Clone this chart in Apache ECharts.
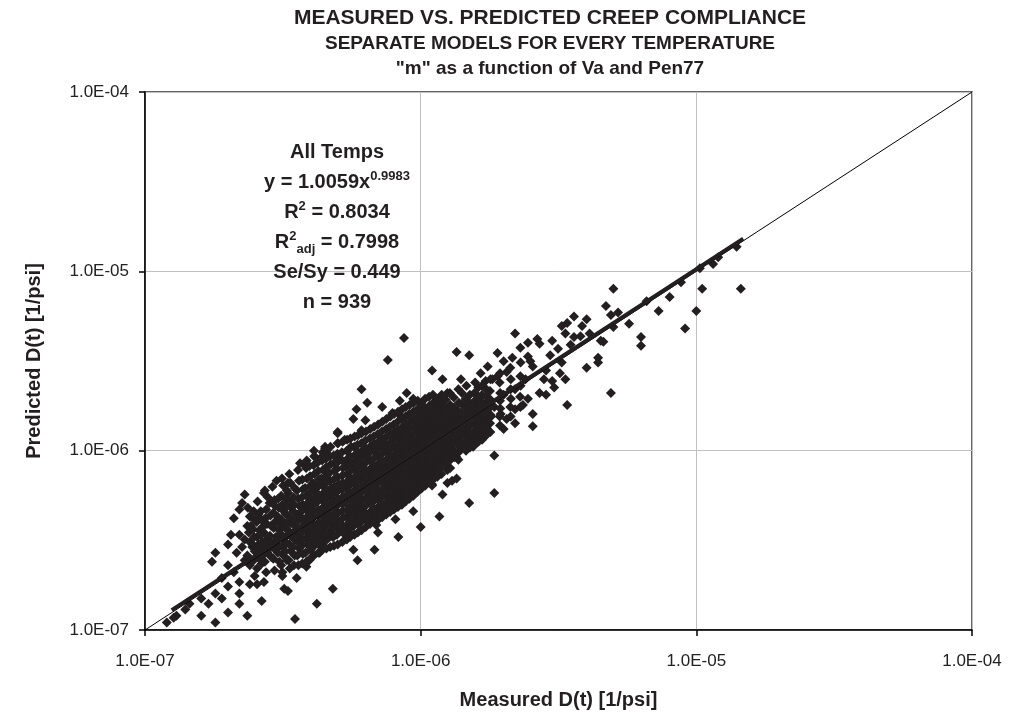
<!DOCTYPE html>
<html>
<head>
<meta charset="utf-8">
<title>Measured vs. Predicted Creep Compliance</title>
<script src="https://cdn.jsdelivr.net/npm/echarts@6/dist/echarts.min.js"></script>
<style>
  html, body { margin: 0; padding: 0; background: #fff; }
  #chart { width: 1011px; height: 717px; }
</style>
</head>
<body>
<div id="chart"></div>
<script>
// tick labels, one per decade
const tickLabels = { '-7': '1.0E-07', '-6': '1.0E-06', '-5': '1.0E-05', '-4': '1.0E-04' }

// 1:1 line and the power fit (y = 1.0059x^0.9983) over the measured range
const oneToOne = [[1e-7, 1e-7], [1e-4, 1e-4]]
const fitLine = [[1.25e-7, 1.29e-7], [1.48e-5, 1.52e-5]]

// [measured, predicted] pairs
const lowTail = [
  [1.2e-7, 1.1e-7], [1.3e-7, 1.2e-7], [1.27e-7, 1.17e-7], [1.4e-7, 1.3e-7], [1.45e-7, 1.4e-7],
  [1.6e-7, 1.2e-7], [1.6e-7, 1.5e-7], [1.7e-7, 1.4e-7], [1.8e-7, 1.1e-7], [1.8e-7, 1.6e-7],
  [1.9e-7, 1.5e-7], [2.0e-7, 1.25e-7], [2.0e-7, 1.75e-7], [2.2e-7, 1.4e-7], [2.2e-7, 1.6e-7],
  [2.35e-7, 1.2e-7], [2.65e-7, 1.45e-7], [2.55e-7, 1.8e-7], [2.7e-7, 1.85e-7], [3.2e-7, 1.7e-7],
  [3.5e-7, 1.15e-7], [4.2e-7, 1.4e-7], [4.8e-7, 1.7e-7], [1.8e-7, 2.7e-7], [1.75e-7, 2.4e-7],
  [2.0e-7, 3.0e-7], [2.05e-7, 3.4e-7], [2.1e-7, 4.2e-7], [2.2e-7, 4.7e-7], [2.25e-7, 5.1e-7],
  [2.3e-7, 5.7e-7], [2.2e-7, 3.4e-7], [2.35e-7, 3.8e-7], [2.7e-7, 5.8e-7], [3.0e-7, 6.8e-7],
  [3.3e-7, 6.6e-7], [3.65e-7, 8.5e-7], [4.1e-7, 1.0e-6], [4.4e-7, 9.3e-7], [4.5e-7, 1.05e-6],
  [5.0e-7, 9.2e-7], [5.0e-7, 1.1e-6], [5.0e-7, 1.25e-6], [5.3e-7, 1.15e-6],
  [3.15e-7, 2.1e-7], [3.3e-7, 1.65e-7], [3.55e-7, 1.95e-7], [3.85e-7, 2.25e-7], [3.95e-7, 2.45e-7],
  [4.3e-7, 2.7e-7], [4.4e-7, 3.0e-7], [4.8e-7, 3.3e-7], [5.1e-7, 3.6e-7], [5.4e-7, 3.3e-7],
  [2.1e-7, 2.1e-7], [2.3e-7, 2.45e-7], [2.2e-7, 1.85e-7], [2.4e-7, 1.8e-7], [2.5e-7, 2.0e-7],
  [1.9e-7, 1.95e-7], [2.0e-7, 2.3e-7], [2.15e-7, 2.7e-7], [2.3e-7, 3.2e-7], [2.25e-7, 2.9e-7]
]

const lowerScatter = [
  [5.5e-7, 3.5e-7], [5.7e-7, 2.8e-7], [5.9e-7, 2.45e-7], [6.8e-7, 2.8e-7], [6.9e-7, 3.85e-7],
  [6.7e-7, 4.2e-7], [7.0e-7, 3.5e-7], [8.1e-7, 4.15e-7], [8.3e-7, 3.3e-7], [9.4e-7, 4.6e-7],
  [9.4e-7, 5.6e-7], [1.0e-6, 3.75e-7], [1.03e-6, 6.4e-7], [1.1e-6, 6.5e-7], [1.17e-6, 4.3e-7],
  [1.2e-6, 5.7e-7], [1.25e-6, 6.6e-7], [1.3e-6, 6.8e-7], [1.5e-6, 5.1e-7], [1.85e-6, 5.8e-7],
  [1.85e-6, 9.4e-7], [1.1e-6, 6.4e-7], [1.35e-6, 7.0e-7], [1.3e-6, 9.8e-7], [1.35e-6, 9.2e-7],
  [1.22e-6, 8.6e-7], [1.25e-6, 7.8e-7], [1.15e-6, 1.0e-6], [1.05e-6, 7.5e-7],
  [1.4e-6, 1.27e-6], [1.55e-6, 1.2e-6], [1.55e-6, 1.05e-6], [1.7e-6, 1.35e-6], [1.75e-6, 1.53e-6]
]

const upperScatter = [
  [8.7e-7, 4.25e-6], [7.6e-7, 3.2e-6], [1.35e-6, 3.55e-6], [1.5e-6, 3.4e-6], [1.9e-6, 3.5e-6],
  [1.75e-6, 2.95e-6], [1.1e-6, 2.8e-6], [1.2e-6, 2.5e-6], [6.1e-7, 2.2e-6], [6.4e-7, 1.85e-6],
  [8.9e-7, 2.1e-6], [8.4e-7, 1.9e-6], [9.4e-7, 1.95e-6], [1.25e-6, 2.1e-6], [1.4e-6, 2.5e-6],
  [1.65e-6, 2.7e-6], [1.72e-6, 2.45e-6], [1.82e-6, 2.5e-6], [5.85e-7, 1.7e-6], [5.7e-7, 1.5e-6],
  [6.3e-7, 1.48e-6], [7.25e-7, 1.75e-6], [7.9e-7, 1.62e-6], [8.5e-7, 1.55e-6], [6.1e-7, 1.3e-6],
  [5.0e-7, 1.27e-6], [4.5e-7, 1.03e-6], [4.15e-7, 9.2e-7], [3.8e-7, 8.3e-7], [5.6e-7, 1.05e-6]
]

const highRange = [
  [5.0e-6, 8.0e-6], [4.7e-6, 6.4e-6], [5.2e-6, 5.9e-6], [5.7e-6, 5.1e-6], [6.3e-6, 4.3e-6],
  [6.3e-6, 3.85e-6], [3.6e-6, 5.6e-6], [4.0e-6, 5.4e-6], [3.85e-6, 4.95e-6], [3.25e-6, 4.95e-6],
  [3.4e-6, 5.15e-6], [3.35e-6, 4.5e-6], [3.6e-6, 4.3e-6], [3.8e-6, 4.35e-6], [3.0e-6, 4.1e-6],
  [3.15e-6, 3.7e-6], [2.65e-6, 4.2e-6], [2.7e-6, 3.95e-6], [2.45e-6, 4.0e-6], [2.3e-6, 3.75e-6],
  [2.2e-6, 4.5e-6], [2.0e-6, 3.15e-6], [2.15e-6, 3.3e-6], [2.45e-6, 3.35e-6], [2.5e-6, 3.15e-6],
  [2.55e-6, 2.95e-6], [1.9e-6, 2.6e-6], [2.05e-6, 2.75e-6], [4.4e-6, 3.3e-6], [4.4e-6, 3.1e-6],
  [4.0e-6, 2.9e-6], [3.25e-6, 3.1e-6], [3.2e-6, 2.7e-6], [3.35e-6, 2.5e-6], [3.0e-6, 2.45e-6],
  [3.05e-6, 2.25e-6], [2.8e-6, 2.5e-6], [2.7e-6, 2.1e-6], [2.85e-6, 2.05e-6], [3.4e-6, 1.8e-6],
  [4.9e-6, 2.1e-6], [2.45e-6, 1.95e-6], [2.35e-6, 1.8e-6], [2.2e-6, 1.7e-6], [2.55e-6, 1.6e-6],
  [2.2e-6, 1.42e-6], [2.05e-6, 1.5e-6], [1.95e-6, 1.6e-6], [1.8e-6, 1.55e-6], [2.55e-6, 1.37e-6],
  [2.0e-6, 1.32e-6], [1.85e-6, 1.75e-6], [2.95e-6, 3.4e-6], [3.5e-6, 3.9e-6], [4.1e-6, 4.5e-6],
  [4.5e-6, 4.1e-6], [2.85e-6, 2.8e-6], [2.4e-6, 2.5e-6], [2.2e-6, 2.2e-6], [2.0e-6, 2.05e-6],
  [1.05e-5, 8.0e-6], [1.45e-5, 8.0e-6], [1.0e-5, 6.0e-6], [9.1e-6, 4.8e-6], [7.3e-6, 6.0e-6],
  [8.0e-6, 7.2e-6], [1.15e-5, 1.1e-5], [4.9e-6, 5.7e-6], [5.0e-6, 4.9e-6], [4.6e-6, 4.05e-6],
  [6.6e-6, 6.8e-6], [8.8e-6, 8.7e-6], [1.2e-5, 1.2e-5], [1.4e-5, 1.37e-5], [1.03e-5, 1.04e-5]
]

const coreLeft = [
  [2.4e-7, 2.3e-7], [2.35e-7, 2.6e-7], [2.45e-7, 2.9e-7], [2.4e-7, 3.1e-7], [2.38e-7, 3.5e-7], [2.42e-7, 3.8e-7], [2.4e-7, 4.3e-7], [2.36e-7, 4.8e-7],
  [2.55e-7, 2.2e-7], [2.6e-7, 2.5e-7], [2.52e-7, 2.75e-7], [2.58e-7, 3.0e-7], [2.55e-7, 3.3e-7], [2.6e-7, 3.6e-7], [2.54e-7, 4.0e-7], [2.58e-7, 4.4e-7], [2.56e-7, 5.2e-7],
  [2.75e-7, 2.1e-7], [2.72e-7, 2.4e-7], [2.78e-7, 2.7e-7], [2.74e-7, 2.95e-7], [2.76e-7, 3.2e-7], [2.7e-7, 3.5e-7], [2.77e-7, 3.9e-7], [2.73e-7, 4.2e-7], [2.75e-7, 4.7e-7], [2.79e-7, 5.5e-7], [2.72e-7, 6.0e-7],
  [2.95e-7, 2.15e-7], [2.92e-7, 2.5e-7], [2.97e-7, 2.8e-7], [2.94e-7, 3.05e-7], [2.98e-7, 3.3e-7], [2.93e-7, 3.7e-7], [2.96e-7, 4.0e-7], [2.92e-7, 4.5e-7], [2.97e-7, 4.9e-7], [2.95e-7, 5.3e-7], [2.9e-7, 6.3e-7],
  [3.15e-7, 2.0e-7], [3.12e-7, 2.3e-7], [3.18e-7, 2.6e-7], [3.14e-7, 2.9e-7], [3.16e-7, 3.2e-7], [3.1e-7, 3.45e-7], [3.17e-7, 3.8e-7], [3.13e-7, 4.1e-7], [3.19e-7, 4.6e-7], [3.15e-7, 5.0e-7], [3.12e-7, 5.6e-7], [3.17e-7, 6.4e-7], [3.14e-7, 7.0e-7],
  [3.35e-7, 2.2e-7], [3.32e-7, 2.45e-7], [3.38e-7, 2.75e-7], [3.34e-7, 3.0e-7], [3.36e-7, 3.35e-7], [3.3e-7, 3.6e-7], [3.37e-7, 3.95e-7], [3.33e-7, 4.3e-7], [3.39e-7, 4.8e-7], [3.35e-7, 5.2e-7], [3.31e-7, 5.8e-7], [3.37e-7, 6.6e-7], [3.34e-7, 7.4e-7],
  [3.6e-7, 2.3e-7], [3.57e-7, 2.6e-7], [3.63e-7, 2.85e-7], [3.59e-7, 3.1e-7], [3.62e-7, 3.4e-7], [3.55e-7, 3.75e-7], [3.61e-7, 4.1e-7], [3.58e-7, 4.4e-7], [3.64e-7, 4.9e-7], [3.6e-7, 5.4e-7], [3.56e-7, 6.0e-7], [3.62e-7, 6.8e-7], [3.59e-7, 7.8e-7],
  [3.85e-7, 2.4e-7], [3.82e-7, 2.7e-7], [3.88e-7, 3.0e-7], [3.84e-7, 3.25e-7], [3.87e-7, 3.55e-7], [3.8e-7, 3.9e-7], [3.86e-7, 4.25e-7], [3.83e-7, 4.7e-7], [3.89e-7, 5.1e-7], [3.85e-7, 5.6e-7], [3.81e-7, 6.2e-7], [3.87e-7, 7.0e-7], [3.84e-7, 8.0e-7], [3.86e-7, 8.8e-7],
  [4.1e-7, 2.6e-7], [4.07e-7, 2.9e-7], [4.13e-7, 3.2e-7], [4.09e-7, 3.5e-7], [4.12e-7, 3.85e-7], [4.05e-7, 4.2e-7], [4.11e-7, 4.6e-7], [4.08e-7, 5.0e-7], [4.14e-7, 5.5e-7], [4.1e-7, 6.0e-7], [4.06e-7, 6.6e-7], [4.12e-7, 7.4e-7], [4.09e-7, 8.3e-7], [4.11e-7, 9.3e-7],
  [4.4e-7, 2.8e-7], [4.37e-7, 3.1e-7], [4.43e-7, 3.4e-7], [4.39e-7, 3.7e-7], [4.42e-7, 4.0e-7], [4.35e-7, 4.4e-7], [4.41e-7, 4.8e-7], [4.38e-7, 5.3e-7], [4.44e-7, 5.8e-7], [4.4e-7, 6.4e-7], [4.36e-7, 7.0e-7], [4.42e-7, 7.8e-7], [4.39e-7, 8.8e-7], [4.41e-7, 9.8e-7],
  [4.7e-7, 2.9e-7], [4.67e-7, 3.3e-7], [4.73e-7, 3.6e-7], [4.69e-7, 3.95e-7], [4.72e-7, 4.3e-7], [4.65e-7, 4.7e-7], [4.71e-7, 5.1e-7], [4.68e-7, 5.6e-7], [4.74e-7, 6.2e-7], [4.7e-7, 6.8e-7], [4.66e-7, 7.5e-7], [4.72e-7, 8.4e-7], [4.69e-7, 9.3e-7], [4.71e-7, 1.05e-6]
]

const coreMid = [
  [5.0e-7, 3.0e-7], [4.97e-7, 3.4e-7], [5.04e-7, 3.8e-7], [4.99e-7, 4.1e-7], [5.02e-7, 4.5e-7], [4.95e-7, 4.9e-7], [5.01e-7, 5.4e-7], [4.98e-7, 5.9e-7], [5.05e-7, 6.5e-7], [5.0e-7, 7.1e-7], [4.96e-7, 7.9e-7], [5.03e-7, 8.7e-7], [4.99e-7, 9.6e-7], [5.01e-7, 1.1e-6],
  [5.4e-7, 3.2e-7], [5.36e-7, 3.6e-7], [5.44e-7, 3.9e-7], [5.39e-7, 4.3e-7], [5.42e-7, 4.7e-7], [5.35e-7, 5.2e-7], [5.41e-7, 5.7e-7], [5.38e-7, 6.2e-7], [5.45e-7, 6.8e-7], [5.4e-7, 7.4e-7], [5.36e-7, 8.2e-7], [5.43e-7, 9.0e-7], [5.39e-7, 1.0e-6], [5.41e-7, 1.15e-6],
  [5.75e-7, 3.4e-7], [5.71e-7, 3.8e-7], [5.79e-7, 4.2e-7], [5.74e-7, 4.6e-7], [5.77e-7, 5.0e-7], [5.7e-7, 5.5e-7], [5.76e-7, 6.0e-7], [5.73e-7, 6.6e-7], [5.8e-7, 7.2e-7], [5.75e-7, 7.9e-7], [5.71e-7, 8.6e-7], [5.78e-7, 9.5e-7], [5.74e-7, 1.05e-6], [5.76e-7, 1.2e-6],
  [6.1e-7, 3.6e-7], [6.06e-7, 4.0e-7], [6.14e-7, 4.4e-7], [6.09e-7, 4.8e-7], [6.12e-7, 5.3e-7], [6.05e-7, 5.8e-7], [6.11e-7, 6.3e-7], [6.08e-7, 6.9e-7], [6.15e-7, 7.6e-7], [6.1e-7, 8.3e-7], [6.06e-7, 9.1e-7], [6.13e-7, 1.0e-6], [6.09e-7, 1.1e-6], [6.11e-7, 1.25e-6],
  [6.55e-7, 3.9e-7], [6.51e-7, 4.2e-7], [6.6e-7, 4.6e-7], [6.54e-7, 5.1e-7], [6.57e-7, 5.6e-7], [6.5e-7, 6.1e-7], [6.56e-7, 6.7e-7], [6.53e-7, 7.3e-7], [6.61e-7, 8.0e-7], [6.55e-7, 8.8e-7], [6.51e-7, 9.7e-7], [6.58e-7, 1.06e-6], [6.54e-7, 1.17e-6], [6.56e-7, 1.32e-6],
  [7.0e-7, 4.1e-7], [6.96e-7, 4.5e-7], [7.05e-7, 4.9e-7], [6.99e-7, 5.4e-7], [7.02e-7, 5.9e-7], [6.95e-7, 6.5e-7], [7.01e-7, 7.1e-7], [6.98e-7, 7.7e-7], [7.06e-7, 8.5e-7], [7.0e-7, 9.3e-7], [6.96e-7, 1.02e-6], [7.03e-7, 1.12e-6], [6.99e-7, 1.24e-6], [7.01e-7, 1.4e-6],
  [7.5e-7, 4.4e-7], [7.46e-7, 4.8e-7], [7.55e-7, 5.2e-7], [7.49e-7, 5.7e-7], [7.52e-7, 6.3e-7], [7.45e-7, 6.9e-7], [7.51e-7, 7.5e-7], [7.48e-7, 8.2e-7], [7.56e-7, 9.0e-7], [7.5e-7, 9.9e-7], [7.46e-7, 1.08e-6], [7.53e-7, 1.2e-6], [7.49e-7, 1.32e-6], [7.51e-7, 1.5e-6],
  [8.0e-7, 4.7e-7], [7.95e-7, 5.1e-7], [8.05e-7, 5.6e-7], [7.99e-7, 6.1e-7], [8.02e-7, 6.7e-7], [7.94e-7, 7.3e-7], [8.01e-7, 8.0e-7], [7.97e-7, 8.8e-7], [8.06e-7, 9.6e-7], [8.0e-7, 1.05e-6], [7.96e-7, 1.15e-6], [8.03e-7, 1.27e-6], [7.98e-7, 1.4e-6], [8.01e-7, 1.6e-6]
]

const coreRight = [
  [8.55e-7, 5.0e-7], [8.5e-7, 5.5e-7], [8.6e-7, 6.0e-7], [8.54e-7, 6.5e-7], [8.57e-7, 7.1e-7], [8.49e-7, 7.8e-7], [8.56e-7, 8.5e-7], [8.52e-7, 9.3e-7], [8.61e-7, 1.02e-6], [8.55e-7, 1.12e-6], [8.51e-7, 1.23e-6], [8.58e-7, 1.35e-6], [8.53e-7, 1.5e-6], [8.56e-7, 1.7e-6],
  [9.1e-7, 5.4e-7], [9.05e-7, 5.9e-7], [9.15e-7, 6.4e-7], [9.09e-7, 7.0e-7], [9.12e-7, 7.6e-7], [9.04e-7, 8.3e-7], [9.11e-7, 9.1e-7], [9.07e-7, 1.0e-6], [9.16e-7, 1.1e-6], [9.1e-7, 1.2e-6], [9.06e-7, 1.32e-6], [9.13e-7, 1.45e-6], [9.08e-7, 1.6e-6], [9.11e-7, 1.8e-6],
  [9.75e-7, 5.9e-7], [9.7e-7, 6.4e-7], [9.8e-7, 6.9e-7], [9.74e-7, 7.5e-7], [9.77e-7, 8.2e-7], [9.69e-7, 9.0e-7], [9.76e-7, 9.8e-7], [9.72e-7, 1.07e-6], [9.81e-7, 1.17e-6], [9.75e-7, 1.28e-6], [9.71e-7, 1.4e-6], [9.78e-7, 1.55e-6], [9.73e-7, 1.7e-6], [9.76e-7, 1.9e-6],
  [1.04e-6, 6.4e-7], [1.035e-6, 7.0e-7], [1.045e-6, 7.6e-7], [1.04e-6, 8.3e-7], [1.043e-6, 9.0e-7], [1.034e-6, 9.9e-7], [1.041e-6, 1.08e-6], [1.037e-6, 1.18e-6], [1.046e-6, 1.3e-6], [1.04e-6, 1.42e-6], [1.036e-6, 1.55e-6], [1.042e-6, 1.72e-6], [1.038e-6, 1.95e-6],
  [1.11e-6, 6.9e-7], [1.105e-6, 7.5e-7], [1.115e-6, 8.2e-7], [1.11e-6, 9.0e-7], [1.113e-6, 9.8e-7], [1.104e-6, 1.07e-6], [1.111e-6, 1.17e-6], [1.107e-6, 1.28e-6], [1.116e-6, 1.4e-6], [1.11e-6, 1.53e-6], [1.106e-6, 1.68e-6], [1.112e-6, 1.85e-6], [1.108e-6, 2.05e-6],
  [1.19e-6, 7.4e-7], [1.185e-6, 8.1e-7], [1.195e-6, 8.9e-7], [1.19e-6, 9.7e-7], [1.193e-6, 1.06e-6], [1.184e-6, 1.16e-6], [1.191e-6, 1.27e-6], [1.187e-6, 1.39e-6], [1.196e-6, 1.52e-6], [1.19e-6, 1.66e-6], [1.186e-6, 1.82e-6], [1.192e-6, 2.05e-6],
  [1.28e-6, 8.0e-7], [1.275e-6, 8.8e-7], [1.285e-6, 9.6e-7], [1.28e-6, 1.05e-6], [1.283e-6, 1.15e-6], [1.274e-6, 1.26e-6], [1.281e-6, 1.38e-6], [1.277e-6, 1.5e-6], [1.286e-6, 1.65e-6], [1.28e-6, 1.8e-6], [1.276e-6, 2.1e-6],
  [1.37e-6, 8.9e-7], [1.365e-6, 9.7e-7], [1.375e-6, 1.06e-6], [1.37e-6, 1.16e-6], [1.373e-6, 1.27e-6], [1.364e-6, 1.4e-6], [1.371e-6, 1.52e-6], [1.367e-6, 1.67e-6], [1.376e-6, 1.85e-6], [1.37e-6, 2.2e-6],
  [1.46e-6, 1.0e-6], [1.455e-6, 1.1e-6], [1.465e-6, 1.2e-6], [1.46e-6, 1.32e-6], [1.463e-6, 1.45e-6], [1.454e-6, 1.6e-6], [1.461e-6, 1.75e-6], [1.457e-6, 1.95e-6], [1.466e-6, 2.3e-6],
  [1.57e-6, 1.08e-6], [1.565e-6, 1.18e-6], [1.575e-6, 1.3e-6], [1.57e-6, 1.43e-6], [1.573e-6, 1.58e-6], [1.564e-6, 1.72e-6], [1.571e-6, 1.9e-6], [1.567e-6, 2.1e-6], [1.576e-6, 2.4e-6],
  [1.67e-6, 1.15e-6], [1.665e-6, 1.27e-6], [1.675e-6, 1.4e-6], [1.67e-6, 1.55e-6], [1.673e-6, 1.7e-6], [1.664e-6, 1.88e-6], [1.671e-6, 2.05e-6], [1.667e-6, 2.3e-6],
  [1.79e-6, 1.27e-6], [1.785e-6, 1.42e-6], [1.795e-6, 1.58e-6], [1.79e-6, 1.75e-6], [1.793e-6, 1.92e-6], [1.784e-6, 2.15e-6], [1.791e-6, 2.5e-6],
  [1.94e-6, 1.38e-6], [1.935e-6, 1.55e-6], [1.945e-6, 1.72e-6], [1.94e-6, 1.9e-6], [1.943e-6, 2.1e-6], [1.934e-6, 2.4e-6], [1.941e-6, 2.7e-6],
  [2.12e-6, 1.55e-6], [2.115e-6, 1.75e-6], [2.125e-6, 1.95e-6], [2.12e-6, 2.2e-6], [2.123e-6, 2.5e-6], [2.114e-6, 2.9e-6],
  [2.3e-6, 1.75e-6], [2.295e-6, 2.0e-6], [2.305e-6, 2.3e-6], [2.3e-6, 2.6e-6], [2.303e-6, 3.1e-6]
]

const coreFillLeft = [
  [2.48e-7, 2.45e-7], [2.5e-7, 2.75e-7], [2.46e-7, 3.0e-7], [2.49e-7, 3.3e-7], [2.47e-7, 3.65e-7], [2.5e-7, 4.1e-7], [2.48e-7, 4.6e-7],
  [2.65e-7, 2.35e-7], [2.67e-7, 2.6e-7], [2.63e-7, 2.85e-7], [2.66e-7, 3.1e-7], [2.64e-7, 3.4e-7], [2.67e-7, 3.75e-7], [2.65e-7, 4.1e-7], [2.63e-7, 4.6e-7],
  [2.87e-7, 2.55e-7], [2.83e-7, 2.85e-7], [2.86e-7, 3.1e-7], [2.84e-7, 3.35e-7], [2.87e-7, 3.8e-7], [2.85e-7, 4.35e-7], [2.83e-7, 5.1e-7],
  [3.07e-7, 2.4e-7], [3.03e-7, 2.7e-7], [3.06e-7, 2.95e-7], [3.04e-7, 3.25e-7], [3.07e-7, 3.6e-7], [3.05e-7, 3.95e-7], [3.03e-7, 4.3e-7], [3.06e-7, 4.8e-7], [3.04e-7, 5.4e-7],
  [3.27e-7, 2.45e-7], [3.23e-7, 2.75e-7], [3.26e-7, 3.05e-7], [3.24e-7, 3.3e-7], [3.27e-7, 3.65e-7], [3.25e-7, 3.95e-7], [3.23e-7, 4.45e-7], [3.26e-7, 4.9e-7], [3.24e-7, 5.4e-7], [3.27e-7, 6.0e-7],
  [3.47e-7, 2.3e-7], [3.49e-7, 2.6e-7], [3.45e-7, 2.9e-7], [3.48e-7, 3.2e-7], [3.46e-7, 3.5e-7], [3.49e-7, 3.8e-7], [3.47e-7, 4.1e-7], [3.45e-7, 4.6e-7], [3.48e-7, 5.0e-7], [3.46e-7, 5.5e-7], [3.49e-7, 6.2e-7],
  [3.72e-7, 2.35e-7], [3.74e-7, 2.65e-7], [3.7e-7, 2.95e-7], [3.73e-7, 3.2e-7], [3.71e-7, 3.5e-7], [3.74e-7, 3.8e-7], [3.72e-7, 4.2e-7], [3.7e-7, 4.6e-7], [3.73e-7, 5.0e-7], [3.71e-7, 5.5e-7], [3.74e-7, 6.1e-7], [3.72e-7, 6.9e-7],
  [3.97e-7, 2.5e-7], [3.99e-7, 2.8e-7], [3.95e-7, 3.1e-7], [3.98e-7, 3.4e-7], [3.96e-7, 3.7e-7], [3.99e-7, 4.05e-7], [3.97e-7, 4.45e-7], [3.95e-7, 4.85e-7], [3.98e-7, 5.3e-7], [3.96e-7, 5.8e-7], [3.99e-7, 6.4e-7], [3.97e-7, 7.2e-7], [3.95e-7, 8.2e-7],
  [4.25e-7, 2.7e-7], [4.27e-7, 3.0e-7], [4.23e-7, 3.3e-7], [4.26e-7, 3.6e-7], [4.24e-7, 3.95e-7], [4.27e-7, 4.3e-7], [4.25e-7, 4.7e-7], [4.23e-7, 5.2e-7], [4.26e-7, 5.7e-7], [4.24e-7, 6.3e-7], [4.27e-7, 6.9e-7], [4.25e-7, 7.7e-7], [4.23e-7, 8.6e-7],
  [4.55e-7, 2.85e-7], [4.57e-7, 3.2e-7], [4.53e-7, 3.5e-7], [4.56e-7, 3.85e-7], [4.54e-7, 4.2e-7], [4.57e-7, 4.55e-7], [4.55e-7, 5.0e-7], [4.53e-7, 5.45e-7], [4.56e-7, 6.0e-7], [4.54e-7, 6.6e-7], [4.57e-7, 7.3e-7], [4.55e-7, 8.1e-7], [4.53e-7, 9.0e-7], [4.56e-7, 1.0e-6],
  [4.85e-7, 2.95e-7], [4.87e-7, 3.35e-7], [4.83e-7, 3.7e-7], [4.86e-7, 4.0e-7], [4.84e-7, 4.4e-7], [4.87e-7, 4.8e-7], [4.85e-7, 5.25e-7], [4.83e-7, 5.75e-7], [4.86e-7, 6.3e-7], [4.84e-7, 6.9e-7], [4.87e-7, 7.7e-7], [4.85e-7, 8.5e-7], [4.83e-7, 9.4e-7]
]

const coreFillMid = [
  [5.2e-7, 3.1e-7], [5.22e-7, 3.5e-7], [5.18e-7, 3.85e-7], [5.21e-7, 4.2e-7], [5.19e-7, 4.6e-7], [5.22e-7, 5.05e-7], [5.2e-7, 5.5e-7], [5.18e-7, 6.05e-7], [5.21e-7, 6.6e-7], [5.19e-7, 7.25e-7], [5.22e-7, 8.0e-7], [5.2e-7, 8.8e-7], [5.18e-7, 9.8e-7], [5.21e-7, 1.12e-6],
  [5.55e-7, 3.3e-7], [5.57e-7, 3.7e-7], [5.53e-7, 4.05e-7], [5.56e-7, 4.45e-7], [5.54e-7, 4.85e-7], [5.57e-7, 5.35e-7], [5.55e-7, 5.85e-7], [5.53e-7, 6.4e-7], [5.56e-7, 7.0e-7], [5.54e-7, 7.65e-7], [5.57e-7, 8.4e-7], [5.55e-7, 9.3e-7], [5.53e-7, 1.03e-6], [5.56e-7, 1.17e-6],
  [5.92e-7, 3.5e-7], [5.94e-7, 3.9e-7], [5.9e-7, 4.3e-7], [5.93e-7, 4.7e-7], [5.91e-7, 5.15e-7], [5.94e-7, 5.65e-7], [5.92e-7, 6.15e-7], [5.9e-7, 6.75e-7], [5.93e-7, 7.4e-7], [5.91e-7, 8.1e-7], [5.94e-7, 8.9e-7], [5.92e-7, 9.8e-7], [5.9e-7, 1.08e-6], [5.93e-7, 1.22e-6],
  [6.32e-7, 3.75e-7], [6.34e-7, 4.1e-7], [6.3e-7, 4.5e-7], [6.33e-7, 4.95e-7], [6.31e-7, 5.45e-7], [6.34e-7, 5.95e-7], [6.32e-7, 6.5e-7], [6.3e-7, 7.1e-7], [6.33e-7, 7.8e-7], [6.31e-7, 8.55e-7], [6.34e-7, 9.4e-7], [6.32e-7, 1.03e-6], [6.3e-7, 1.14e-6], [6.33e-7, 1.28e-6],
  [6.77e-7, 4.0e-7], [6.79e-7, 4.35e-7], [6.75e-7, 4.75e-7], [6.78e-7, 5.25e-7], [6.76e-7, 5.75e-7], [6.79e-7, 6.3e-7], [6.77e-7, 6.9e-7], [6.75e-7, 7.5e-7], [6.78e-7, 8.25e-7], [6.76e-7, 9.05e-7], [6.79e-7, 9.95e-7], [6.77e-7, 1.09e-6], [6.75e-7, 1.2e-6], [6.78e-7, 1.36e-6],
  [7.25e-7, 4.25e-7], [7.27e-7, 4.65e-7], [7.23e-7, 5.05e-7], [7.26e-7, 5.55e-7], [7.24e-7, 6.1e-7], [7.27e-7, 6.7e-7], [7.25e-7, 7.3e-7], [7.23e-7, 7.95e-7], [7.26e-7, 8.75e-7], [7.24e-7, 9.6e-7], [7.27e-7, 1.05e-6], [7.25e-7, 1.16e-6], [7.23e-7, 1.28e-6], [7.26e-7, 1.45e-6],
  [7.75e-7, 4.55e-7], [7.77e-7, 4.95e-7], [7.73e-7, 5.4e-7], [7.76e-7, 5.9e-7], [7.74e-7, 6.5e-7], [7.77e-7, 7.1e-7], [7.75e-7, 7.75e-7], [7.73e-7, 8.5e-7], [7.76e-7, 9.3e-7], [7.74e-7, 1.02e-6], [7.77e-7, 1.11e-6], [7.75e-7, 1.23e-6], [7.73e-7, 1.36e-6], [7.76e-7, 1.55e-6],
  [8.27e-7, 4.85e-7], [8.3e-7, 5.3e-7], [8.25e-7, 5.8e-7], [8.28e-7, 6.3e-7], [8.26e-7, 6.9e-7], [8.3e-7, 7.55e-7], [8.27e-7, 8.25e-7], [8.25e-7, 9.05e-7], [8.28e-7, 9.9e-7], [8.26e-7, 1.08e-6], [8.3e-7, 1.19e-6], [8.27e-7, 1.31e-6], [8.25e-7, 1.45e-6], [8.28e-7, 1.65e-6]
]

const coreFillRight = [
  [8.82e-7, 5.2e-7], [8.85e-7, 5.7e-7], [8.8e-7, 6.2e-7], [8.83e-7, 6.75e-7], [8.81e-7, 7.35e-7], [8.85e-7, 8.05e-7], [8.82e-7, 8.8e-7], [8.8e-7, 9.65e-7], [8.83e-7, 1.06e-6], [8.81e-7, 1.16e-6], [8.85e-7, 1.27e-6], [8.82e-7, 1.4e-6], [8.8e-7, 1.55e-6], [8.83e-7, 1.75e-6],
  [9.42e-7, 5.65e-7], [9.45e-7, 6.15e-7], [9.4e-7, 6.65e-7], [9.43e-7, 7.25e-7], [9.41e-7, 7.9e-7], [9.45e-7, 8.65e-7], [9.42e-7, 9.45e-7], [9.4e-7, 1.035e-6], [9.43e-7, 1.13e-6], [9.41e-7, 1.24e-6], [9.45e-7, 1.36e-6], [9.42e-7, 1.5e-6], [9.4e-7, 1.65e-6], [9.43e-7, 1.85e-6],
  [1.007e-6, 6.15e-7], [1.01e-6, 6.7e-7], [1.005e-6, 7.25e-7], [1.008e-6, 7.9e-7], [1.006e-6, 8.6e-7], [1.01e-6, 9.45e-7], [1.007e-6, 1.03e-6], [1.005e-6, 1.12e-6], [1.008e-6, 1.23e-6], [1.006e-6, 1.35e-6], [1.01e-6, 1.48e-6], [1.007e-6, 1.63e-6], [1.005e-6, 1.82e-6],
  [1.075e-6, 6.65e-7], [1.078e-6, 7.25e-7], [1.073e-6, 7.9e-7], [1.076e-6, 8.65e-7], [1.074e-6, 9.4e-7], [1.078e-6, 1.03e-6], [1.075e-6, 1.12e-6], [1.073e-6, 1.23e-6], [1.076e-6, 1.35e-6], [1.074e-6, 1.47e-6], [1.078e-6, 1.61e-6], [1.075e-6, 1.78e-6], [1.073e-6, 2.0e-6],
  [1.15e-6, 7.15e-7], [1.153e-6, 7.8e-7], [1.148e-6, 8.55e-7], [1.151e-6, 9.35e-7], [1.149e-6, 1.02e-6], [1.153e-6, 1.11e-6], [1.15e-6, 1.22e-6], [1.148e-6, 1.33e-6], [1.151e-6, 1.46e-6], [1.149e-6, 1.6e-6], [1.153e-6, 1.75e-6], [1.15e-6, 1.95e-6],
  [1.233e-6, 8.45e-7], [1.228e-6, 9.25e-7], [1.231e-6, 1.01e-6], [1.229e-6, 1.1e-6], [1.233e-6, 1.21e-6], [1.23e-6, 1.32e-6], [1.228e-6, 1.45e-6], [1.231e-6, 1.58e-6], [1.229e-6, 1.73e-6], [1.233e-6, 1.92e-6],
  [1.323e-6, 9.2e-7], [1.318e-6, 1.0e-6], [1.321e-6, 1.1e-6], [1.319e-6, 1.2e-6], [1.323e-6, 1.32e-6], [1.32e-6, 1.45e-6], [1.318e-6, 1.58e-6], [1.321e-6, 1.74e-6], [1.319e-6, 1.98e-6],
  [1.413e-6, 1.03e-6], [1.408e-6, 1.13e-6], [1.411e-6, 1.24e-6], [1.409e-6, 1.36e-6], [1.413e-6, 1.5e-6], [1.41e-6, 1.64e-6], [1.408e-6, 1.82e-6], [1.411e-6, 2.1e-6],
  [1.51e-6, 1.04e-6], [1.513e-6, 1.14e-6], [1.508e-6, 1.25e-6], [1.511e-6, 1.38e-6], [1.509e-6, 1.52e-6], [1.513e-6, 1.67e-6], [1.51e-6, 1.83e-6], [1.508e-6, 2.05e-6],
  [1.62e-6, 1.12e-6], [1.623e-6, 1.23e-6], [1.618e-6, 1.35e-6], [1.621e-6, 1.49e-6], [1.619e-6, 1.64e-6], [1.623e-6, 1.8e-6], [1.62e-6, 2.0e-6], [1.618e-6, 2.25e-6],
  [1.73e-6, 1.22e-6], [1.733e-6, 1.35e-6], [1.728e-6, 1.5e-6], [1.731e-6, 1.65e-6], [1.729e-6, 1.82e-6], [1.733e-6, 2.0e-6], [1.73e-6, 2.2e-6]
]

const allPoints = [].concat(lowTail, lowerScatter, upperScatter, highRange,
  coreLeft, coreMid, coreRight, coreFillLeft, coreFillMid, coreFillRight)

const FONT = '"Liberation Sans", Arial, sans-serif'
const INK = '#231f20'

const chart = echarts.init(document.getElementById('chart'))

const axisCommon = {
  type: 'log',
  logBase: 10,
  min: 1e-7,
  max: 1e-4,
  axisLine: { show: true, lineStyle: { color: '#000', width: 1.5 } },
  axisTick: { show: true, inside: false, length: 6, lineStyle: { color: '#000', width: 1.5 } },
  minorTick: { show: false },
  splitLine: { show: true, lineStyle: { color: '#c0c0c0', width: 1 } },
  axisLabel: {
    fontFamily: FONT,
    fontSize: 17,
    color: '#222',
    formatter: v => tickLabels[String(Math.round(Math.log10(v)))] || ''
  },
  nameLocation: 'middle',
  nameTextStyle: { fontFamily: FONT, fontSize: 20, fontWeight: 'bold', color: INK }
}

chart.setOption({
  animation: false,
  backgroundColor: '#fff',
  title: [
    { text: 'MEASURED VS. PREDICTED CREEP COMPLIANCE', left: 545, top: 3, textAlign: 'center',
      textStyle: { fontFamily: FONT, fontSize: 21, fontWeight: 'bold', color: INK } },
    { text: 'SEPARATE MODELS FOR EVERY TEMPERATURE', left: 545, top: 29, textAlign: 'center',
      textStyle: { fontFamily: FONT, fontSize: 19, fontWeight: 'bold', color: INK } },
    { text: '"m" as a function of Va and Pen77', left: 545, top: 54, textAlign: 'center',
      textStyle: { fontFamily: FONT, fontSize: 19, fontWeight: 'bold', color: INK } }
  ],
  grid: {
    left: 145, right: 39, top: 92, bottom: 87,
    show: true, borderColor: '#333', borderWidth: 1.5, backgroundColor: 'transparent'
  },
  xAxis: Object.assign({}, axisCommon, {
    name: 'Measured D(t) [1/psi]',
    nameGap: 60,
    axisLabel: Object.assign({}, axisCommon.axisLabel, { margin: 23 })
  }),
  yAxis: Object.assign({}, axisCommon, {
    name: 'Predicted D(t) [1/psi]',
    nameGap: 101,
    axisLabel: Object.assign({}, axisCommon.axisLabel, { margin: 16 })
  }),
  graphic: [{
    type: 'text',
    x: 337,
    y: 137,
    z: 10,
    style: {
      x: 0,
      y: 0,
      align: 'center',
      verticalAlign: 'top',
      fill: INK,
      text: [
        '{b|All Temps}',
        '{b|y = 1.0059x}{sup|0.9983}',
        '{b|R}{sup|2}{b| = 0.8034}',
        '{b|R}{sup|2}{sub|adj}{b| = 0.7998}',
        '{b|Se/Sy = 0.449}',
        '{b|n = 939}'
      ].join('\n'),
      rich: {
        b: { fontFamily: FONT, fontSize: 20, fontWeight: 'bold', lineHeight: 30, fill: INK },
        sup: { fontFamily: FONT, fontSize: 13, fontWeight: 'bold', lineHeight: 13, verticalAlign: 'top', padding: [3, 0, 0, 0], fill: INK },
        sub: { fontFamily: FONT, fontSize: 13, fontWeight: 'bold', lineHeight: 13, verticalAlign: 'bottom', padding: [0, 0, 1, 0], fill: INK }
      }
    }
  }],
  series: [
    {
      name: 'data',
      type: 'scatter',
      symbol: 'diamond',
      symbolSize: 10,
      itemStyle: { color: INK, opacity: 1 },
      data: allPoints,
      z: 2
    },
    {
      name: 'one to one',
      type: 'line',
      data: oneToOne,
      symbol: 'none',
      lineStyle: { color: '#000', width: 1 },
      z: 3
    },
    {
      name: 'power fit',
      type: 'line',
      data: fitLine,
      symbol: 'none',
      lineStyle: { color: INK, width: 4 },
      z: 4
    }
  ]
})
</script>
</body>
</html>
